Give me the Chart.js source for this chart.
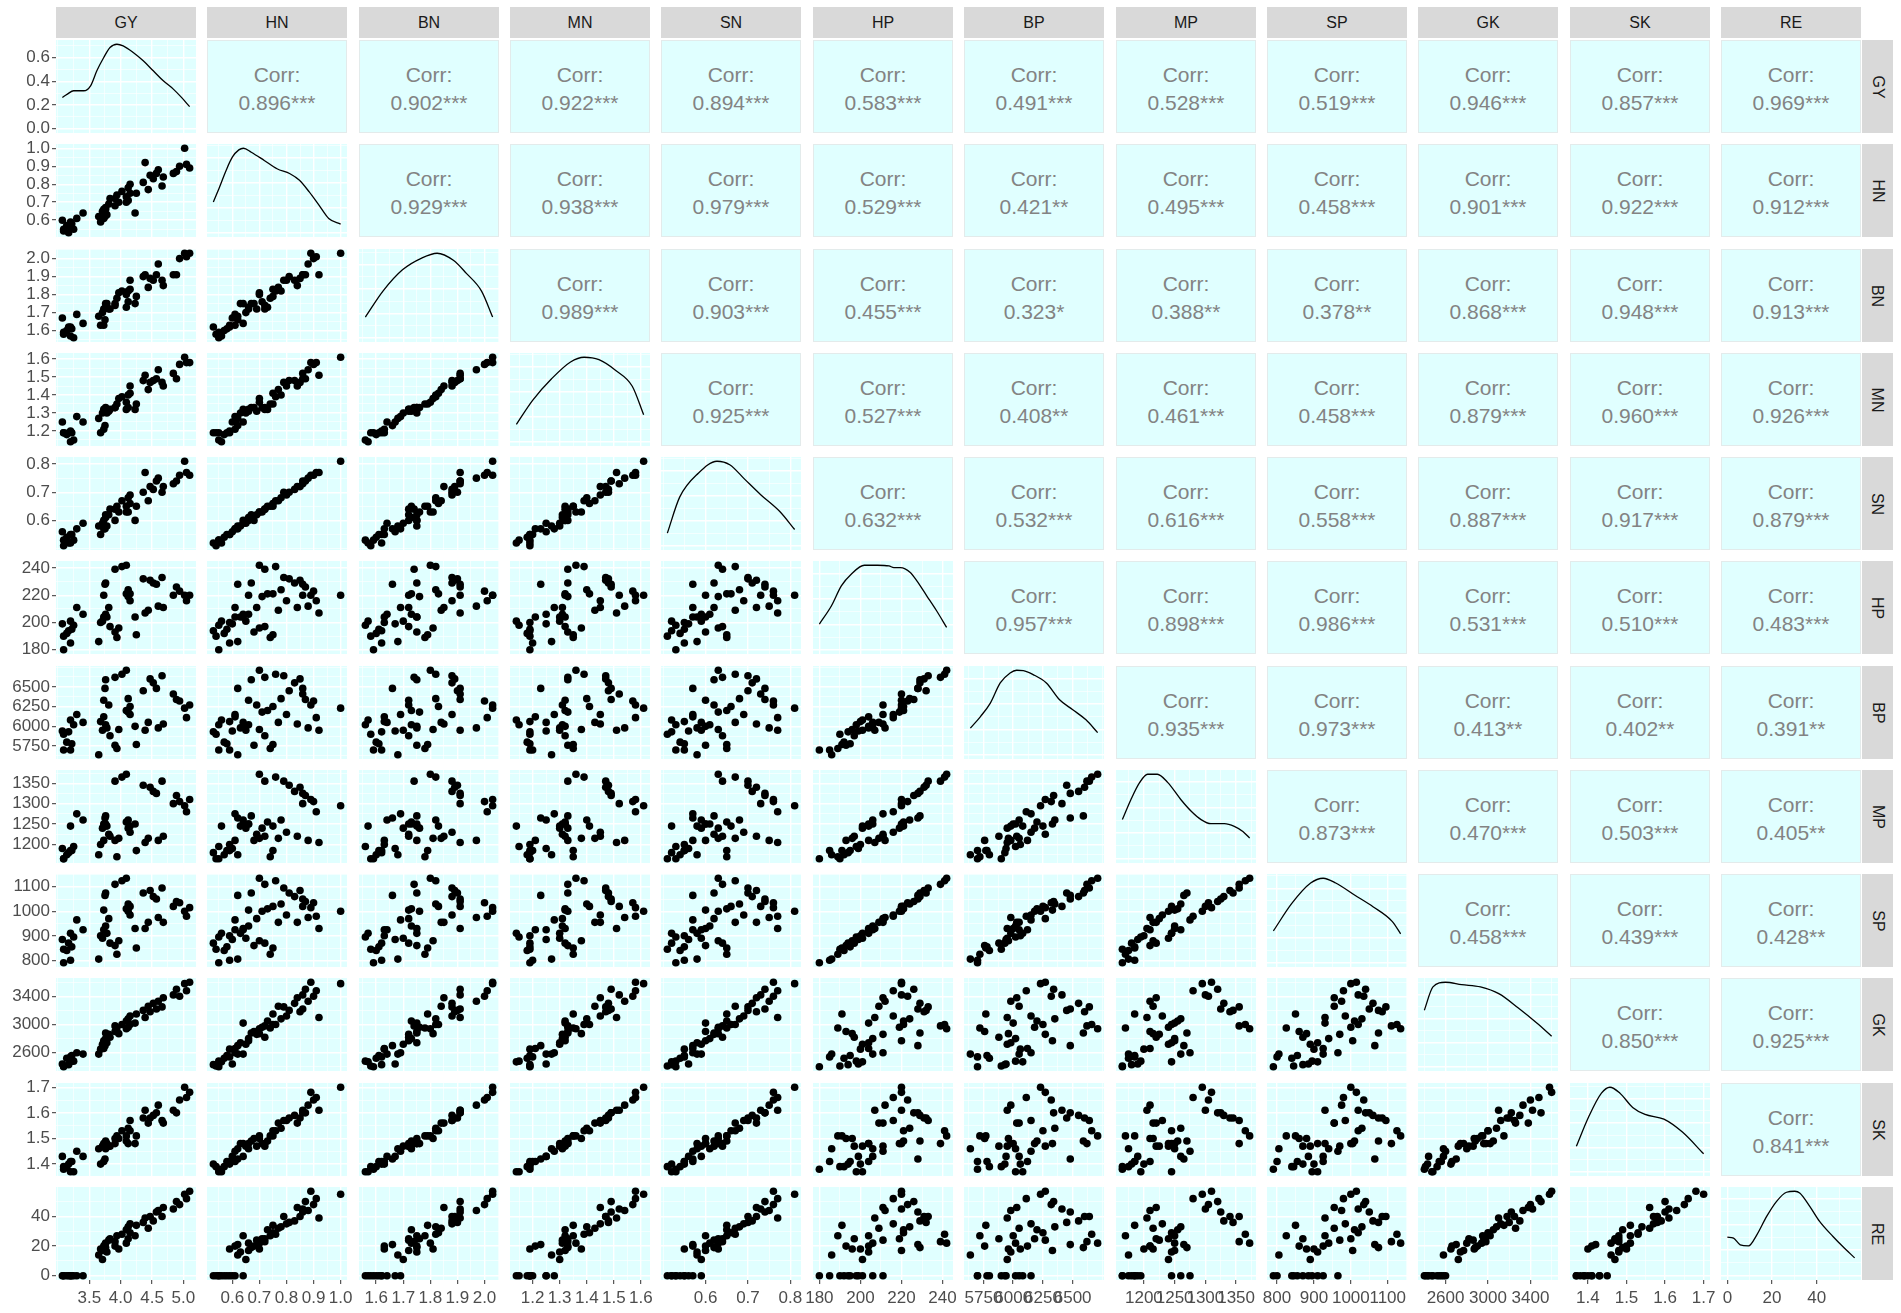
<!DOCTYPE html>
<html>
<head>
<meta charset="utf-8">
<title>Correlation matrix</title>
<script src="https://cdn.jsdelivr.net/npm/chart.js@4.4.1/dist/chart.umd.min.js"></script>
<style>
  body { margin: 0; background: #fff; width: 1901px; height: 1313px; position: relative; overflow: hidden;
         font-family: "Liberation Sans", Arial, sans-serif; }
  canvas { position: absolute; }
  .strip { position: absolute; background: #d9d9d9; color: #1a1a1a; font-size: 16px;
           display: flex; align-items: center; justify-content: center; }
  .strip.side span { display: inline-block; transform: rotate(90deg); }
  .corr { position: absolute; box-sizing: border-box; background: #e0ffff; border: 1px solid #e3ebeb;
          color: #838383; font-size: 21px; line-height: 28px; text-align: center;
          display: flex; flex-direction: column; justify-content: center; padding-top: 5px; }
</style>
</head>
<body>
<script>
// variables, in plot order
const varNames = ['GY', 'HN', 'BN', 'MN', 'SN', 'HP', 'BP', 'MP', 'SP', 'GK', 'SK', 'RE'];

// observations (one value per plot, same order in every array)
const gy = [3.07, 3.20, 3.09, 3.14, 3.17, 3.22, 3.25, 3.09, 3.20, 3.30, 3.40, 3.65, 3.68, 3.71, 3.73, 3.76, 3.78, 3.81, 3.73, 3.75, 3.76, 3.83, 3.91, 3.94, 3.97, 3.91, 4.02, 4.09, 4.12, 4.15, 4.12, 4.15, 4.09, 4.23, 4.25, 4.36, 4.39, 4.44, 4.47, 4.52, 4.57, 4.66, 4.68, 4.60, 4.84, 4.89, 4.94, 5.02, 5.05, 5.10];
const hn = [0.60, 0.56, 0.54, 0.57, 0.53, 0.58, 0.55, 0.55, 0.59, 0.61, 0.64, 0.62, 0.59, 0.65, 0.61, 0.66, 0.63, 0.69, 0.66, 0.62, 0.67, 0.72, 0.68, 0.74, 0.70, 0.72, 0.76, 0.70, 0.78, 0.75, 0.71, 0.80, 0.73, 0.64, 0.75, 0.81, 0.92, 0.77, 0.85, 0.83, 0.86, 0.79, 0.84, 0.88, 0.86, 0.87, 0.90, 1.00, 0.91, 0.89];
const bn = [1.67, 1.57, 1.58, 1.60, 1.62, 1.61, 1.56, 1.59, 1.62, 1.69, 1.64, 1.68, 1.63, 1.70, 1.63, 1.73, 1.75, 1.72, 1.72, 1.66, 1.75, 1.72, 1.75, 1.78, 1.81, 1.74, 1.82, 1.80, 1.82, 1.83, 1.76, 1.88, 1.73, 1.75, 1.79, 1.90, 1.91, 1.84, 1.89, 1.88, 1.91, 1.88, 1.85, 1.97, 1.91, 1.91, 2.00, 2.03, 2.01, 2.03];
const mn = [1.25, 1.14, 1.19, 1.18, 1.19, 1.19, 1.15, 1.19, 1.20, 1.28, 1.25, 1.27, 1.19, 1.30, 1.21, 1.31, 1.30, 1.31, 1.32, 1.23, 1.33, 1.32, 1.33, 1.35, 1.38, 1.33, 1.39, 1.36, 1.40, 1.41, 1.33, 1.45, 1.32, 1.32, 1.35, 1.48, 1.51, 1.43, 1.47, 1.48, 1.49, 1.47, 1.45, 1.54, 1.52, 1.49, 1.57, 1.61, 1.58, 1.58];
const sn = [0.56, 0.52, 0.51, 0.54, 0.52, 0.55, 0.53, 0.53, 0.55, 0.57, 0.59, 0.58, 0.55, 0.59, 0.57, 0.61, 0.58, 0.62, 0.60, 0.57, 0.62, 0.64, 0.60, 0.65, 0.63, 0.64, 0.67, 0.63, 0.68, 0.66, 0.63, 0.69, 0.65, 0.60, 0.65, 0.70, 0.77, 0.67, 0.72, 0.71, 0.74, 0.70, 0.72, 0.75, 0.73, 0.74, 0.76, 0.81, 0.77, 0.76];
const hp = [199, 201, 190, 192, 194, 195, 198, 180, 185, 211, 206, 186, 200, 201, 204, 206, 204, 211, 220, 228, 229, 197, 193, 189, 196, 239, 241, 242, 224, 221, 219, 216, 221, 204, 191, 232, 207, 209, 231, 229, 228, 233, 211, 212, 220, 226, 223, 220, 216, 220];
const bp = [5940, 6080, 5900, 5800, 5930, 5780, 6020, 5700, 5700, 6150, 6050, 5640, 6060, 5950, 6120, 6020, 5980, 6270, 6330, 6480, 6590, 5880, 5760, 5720, 5960, 6620, 6660, 6710, 6350, 6250, 6180, 6150, 6200, 6000, 5770, 6450, 5950, 6050, 6600, 6550, 6480, 6640, 6030, 5980, 6410, 6340, 6320, 6230, 6110, 6270];
const mp = [1190, 1245, 1165, 1175, 1180, 1185, 1195, 1165, 1185, 1275, 1260, 1175, 1200, 1240, 1210, 1250, 1245, 1225, 1250, 1265, 1270, 1220, 1210, 1170, 1215, 1355, 1365, 1372, 1260, 1245, 1240, 1230, 1255, 1250, 1185, 1345, 1205, 1215, 1340, 1330, 1325, 1355, 1220, 1210, 1300, 1320, 1305, 1295, 1280, 1310];
const sp = [885, 910, 845, 840, 870, 855, 895, 790, 800, 965, 925, 805, 900, 890, 925, 940, 910, 970, 1005, 1065, 1075, 870, 860, 825, 880, 1110, 1125, 1135, 1030, 1020, 1000, 985, 1010, 930, 850, 1075, 930, 955, 1085, 1060, 1050, 1095, 955, 975, 1020, 1040, 1035, 1000, 980, 1015];
const gk = [2440, 2470, 2410, 2520, 2430, 2560, 2480, 2400, 2540, 2600, 2580, 2580, 2650, 2720, 2660, 2800, 2740, 2860, 2770, 2700, 2880, 2820, 2900, 2950, 2870, 2980, 3000, 2940, 3080, 3000, 2960, 3120, 3050, 3020, 3150, 3200, 3100, 3260, 3180, 3300, 3220, 3250, 3380, 3330, 3420, 3500, 3400, 3580, 3480, 3600];
const sk = [1.43, 1.37, 1.39, 1.39, 1.40, 1.41, 1.37, 1.38, 1.41, 1.45, 1.43, 1.46, 1.40, 1.47, 1.41, 1.46, 1.48, 1.47, 1.48, 1.42, 1.49, 1.47, 1.50, 1.51, 1.50, 1.48, 1.53, 1.51, 1.54, 1.53, 1.48, 1.57, 1.49, 1.48, 1.51, 1.58, 1.61, 1.56, 1.58, 1.59, 1.60, 1.57, 1.56, 1.63, 1.61, 1.60, 1.65, 1.70, 1.66, 1.68];
const re = [0, 0, 0, 0, 0, 0, 0, 0, 0, 0, 0, 14, 18, 11, 20, 22, 16, 24, 17, 21, 19, 25, 20, 27, 18, 23, 28, 22, 33, 29, 25, 35, 31, 27, 34, 36, 39, 32, 40, 37, 43, 40, 46, 44, 45, 50, 48, 55, 52, 57];

// axis tick labels
const tickGY = ['3.5', '4.0', '4.5', '5.0'];
const tickHN = ['0.6', '0.7', '0.8', '0.9', '1.0'];
const tickBN = ['1.6', '1.7', '1.8', '1.9', '2.0'];
const tickMN = ['1.2', '1.3', '1.4', '1.5', '1.6'];
const tickSN = ['0.6', '0.7', '0.8'];
const tickHP = ['180', '200', '220', '240'];
const tickBP = ['5750', '6000', '6250', '6500'];
const tickMP = ['1200', '1250', '1300', '1350'];
const tickSP = ['800', '900', '1000', '1100'];
const tickGK = ['2600', '3000', '3400'];
const tickSK = ['1.4', '1.5', '1.6', '1.7'];
const tickRE = ['0', '20', '40'];
const tickDensGY = ['0.0', '0.2', '0.4', '0.6'];
const tickDensRel = ['0.0', '0.3', '0.6', '0.9'];

// diagonal density curves (GY in density units, the others relative to their peak)
const densGYx = [3.07, 3.15, 3.25, 3.41, 3.52, 3.62, 3.73, 3.83, 3.94, 4.04, 4.20, 4.36, 4.52, 4.68, 4.84, 4.97, 5.10];
const densGYy = [0.264, 0.292, 0.320, 0.320, 0.362, 0.488, 0.600, 0.684, 0.712, 0.698, 0.642, 0.572, 0.488, 0.404, 0.334, 0.264, 0.186];
const densHNx = [0.53, 0.553, 0.577, 0.600, 0.624, 0.641, 0.670, 0.718, 0.765, 0.813, 0.848, 0.884, 0.920, 0.956, 1.0];
const densHNy = [0.372, 0.552, 0.751, 0.910, 0.998, 1.018, 0.970, 0.871, 0.771, 0.711, 0.632, 0.492, 0.333, 0.173, 0.105];
const densBNx = [1.56, 1.625, 1.697, 1.768, 1.825, 1.885, 1.933, 1.989, 2.03];
const densBNy = [0.254, 0.572, 0.833, 0.977, 1.036, 0.949, 0.789, 0.572, 0.254];
const densMNx = [1.14, 1.20, 1.27, 1.34, 1.39, 1.445, 1.507, 1.568, 1.61];
const densMNy = [0.21, 0.50, 0.76, 0.963, 1.02, 0.99, 0.86, 0.67, 0.326];
const densSNx = [0.51, 0.539, 0.583, 0.627, 0.657, 0.692, 0.730, 0.775, 0.81];
const densSNy = [0.153, 0.587, 0.876, 1.02, 0.978, 0.804, 0.616, 0.413, 0.196];
const densHPx = [180, 185.9, 190.7, 195.5, 201.9, 208.3, 213.9, 216.3, 219.5, 224.3, 227.5, 232.3, 237.1, 242];
const densHPy = [0.304, 0.52, 0.755, 0.893, 0.999, 0.999, 0.991, 0.971, 0.971, 0.913, 0.814, 0.638, 0.461, 0.264];
const densBPx = [5640, 5725, 5808, 5891, 5974, 6029, 6085, 6168, 6279, 6390, 6501, 6612, 6710];
const densBPy = [0.313, 0.45, 0.608, 0.845, 0.963, 0.995, 0.991, 0.944, 0.845, 0.648, 0.53, 0.411, 0.261];
const densMPx = [1165, 1179, 1193, 1206, 1222, 1239, 1260, 1277, 1293, 1309, 1331, 1347, 1361, 1372];
const densMPy = [0.459, 0.695, 0.892, 0.991, 0.991, 0.892, 0.695, 0.557, 0.459, 0.411, 0.411, 0.38, 0.32, 0.242];
const densSPx = [790, 840, 891, 925, 959, 1010, 1061, 1112, 1135];
const densSPy = [0.384, 0.717, 0.963, 1.021, 0.963, 0.818, 0.674, 0.5, 0.35];
const densGKx = [2400, 2481, 2599, 2752, 2929, 3106, 3283, 3460, 3600];
const densGKy = [0.703, 0.992, 1.05, 1.02, 0.992, 0.905, 0.732, 0.543, 0.38];
const densSKx = [1.37, 1.402, 1.435, 1.457, 1.483, 1.516, 1.548, 1.597, 1.645, 1.70];
const densSKy = [0.312, 0.674, 0.963, 1.036, 0.963, 0.789, 0.703, 0.645, 0.486, 0.22];
const densREx = [0, 2.78, 5.75, 9.45, 13.2, 17.6, 22.05, 26.5, 30.2, 32.4, 36.9, 41.3, 47.3, 51.7, 57];
const densREy = [0.453, 0.441, 0.363, 0.35, 0.48, 0.696, 0.873, 0.979, 0.991, 0.971, 0.814, 0.638, 0.461, 0.343, 0.21];

// upper triangle correlation labels, row by row
const corrLabels = [
  '0.896***', '0.902***', '0.922***', '0.894***', '0.583***', '0.491***', '0.528***', '0.519***', '0.946***', '0.857***', '0.969***',
  '0.929***', '0.938***', '0.979***', '0.529***', '0.421**', '0.495***', '0.458***', '0.901***', '0.922***', '0.912***',
  '0.989***', '0.903***', '0.455***', '0.323*', '0.388**', '0.378**', '0.868***', '0.948***', '0.913***',
  '0.925***', '0.527***', '0.408**', '0.461***', '0.458***', '0.879***', '0.960***', '0.926***',
  '0.632***', '0.532***', '0.616***', '0.558***', '0.887***', '0.917***', '0.879***',
  '0.957***', '0.898***', '0.986***', '0.531***', '0.510***', '0.483***',
  '0.935***', '0.973***', '0.413**', '0.402**', '0.391**',
  '0.873***', '0.470***', '0.503***', '0.405**',
  '0.458***', '0.439***', '0.428**',
  '0.850***', '0.925***',
  '0.841***'
];

// lookup tables built from the arrays above
const values = [gy, hn, bn, mn, sn, hp, bp, mp, sp, gk, sk, re];
const ticks = [tickGY, tickHN, tickBN, tickMN, tickSN, tickHP, tickBP, tickMP, tickSP, tickGK, tickSK, tickRE];
const densX = [densGYx, densHNx, densBNx, densMNx, densSNx, densHPx, densBPx, densMPx, densSPx, densGKx, densSKx, densREx];
const densY = [densGYy, densHNy, densBNy, densMNy, densSNy, densHPy, densBPy, densMPy, densSPy, densGKy, densSKy, densREy];

const FONT = '"Liberation Sans", Arial, sans-serif';
const N = varNames.length;
const X0 = 56, Y0 = 40, DX = 151.36, DY = 104.27, PW = 140, PH = 93;
const CYAN = '#e0ffff';

// ggplot-like range: data range plus 5% each side
function range(arr) {
  const lo = Math.min(...arr), hi = Math.max(...arr);
  const pad = (hi - lo) * 0.05;
  return [lo - pad, hi + pad];
}

// major ticks from the labels, minor ones halfway between
function gridTicks(labels, lo, hi) {
  const vals = labels.map(Number);
  const half = (vals[1] - vals[0]) / 2;
  const out = [];
  for (let k = Math.ceil(lo / half - 1e-6); k * half <= hi + 1e-9; k++) {
    const v = +(k * half).toFixed(6);
    const i = vals.findIndex(m => Math.abs(m - v) < half * 0.01);
    out.push({ value: v, big: i >= 0, lab: i >= 0 ? labels[i] : '' });
  }
  return out;
}

function axis(pos, labels, lo, hi, show) {
  const list = gridTicks(labels, lo, hi);
  return {
    type: 'linear',
    position: pos,
    min: lo,
    max: hi,
    afterBuildTicks: s => { s.ticks = list.map(t => Object.assign({}, t)); },
    afterFit: s => {
      if (pos === 'left') { s.width = show ? 56 : 0; s.paddingTop = 0; s.paddingBottom = 0; }
      else { s.height = show ? 32 : 0; s.paddingLeft = 0; s.paddingRight = 0; }
    },
    border: { display: false },
    grid: {
      color: '#ffffff',
      lineWidth: c => (c.tick && c.tick.big ? 1.4 : 0.6),
      drawTicks: show,
      tickLength: 4,
      tickWidth: 1,
      tickColor: c => (c.tick && c.tick.big ? '#333333' : 'rgba(0,0,0,0)')
    },
    ticks: {
      display: show,
      autoSkip: false,
      maxRotation: 0,
      minRotation: 0,
      padding: pos === 'left' ? 2 : 4,
      color: '#4d4d4d',
      font: { family: FONT, size: 17 },
      callback: (v, i, t) => t[i].lab
    }
  };
}

// fills the plotting area before the grid is drawn
const panelBg = {
  id: 'panelBg',
  beforeDraw(chart) {
    const a = chart.chartArea, ctx = chart.ctx;
    ctx.save();
    ctx.fillStyle = CYAN;
    ctx.fillRect(a.left, a.top, a.right - a.left, a.bottom - a.top);
    ctx.restore();
  }
};

function addDiv(cls, left, top, w, h, html) {
  const d = document.createElement('div');
  d.className = cls;
  d.style.left = left + 'px';
  d.style.top = top + 'px';
  d.style.width = w + 'px';
  d.style.height = h + 'px';
  d.innerHTML = html;
  document.body.appendChild(d);
  return d;
}

const colLeft = c => Math.round(X0 + c * DX);
const rowTop = r => Math.round(Y0 + r * DY);

// strips
for (let i = 0; i < N; i++) {
  addDiv('strip', colLeft(i), 7, PW, 31, varNames[i]);
  addDiv('strip side', colLeft(N - 1) + PW + 1, rowTop(i), 31, PH, '<span>' + varNames[i] + '</span>');
}

// upper triangle: correlation text
let k = 0;
for (let r = 0; r < N; r++) {
  for (let c = r + 1; c < N; c++) {
    addDiv('corr', colLeft(c), rowTop(r), PW, PH, '<div>Corr:</div><div>' + corrLabels[k++] + '</div>');
  }
}

// lower triangle and diagonal: charts
for (let r = 0; r < N; r++) {
  for (let c = 0; c <= r; c++) {
    const showY = c === 0, showX = r === N - 1;
    const padL = showY ? 56 : 8, padR = 8, padT = 10, padB = showX ? 32 : 10;
    const cv = document.createElement('canvas');
    cv.width = PW + padL + padR;
    cv.height = PH + padT + padB;
    cv.style.left = (colLeft(c) - padL) + 'px';
    cv.style.top = (rowTop(r) - padT) + 'px';
    document.body.appendChild(cv);

    const [xlo, xhi] = range(values[c]);
    let dataset, yAxis;
    if (r === c) {
      const ys = densY[c];
      const ymax = Math.max(...ys);
      dataset = {
        data: densX[c].map((x, i) => ({ x: x, y: ys[i] })),
        showLine: true,
        pointRadius: 0,
        borderColor: '#000000',
        borderWidth: 1.3,
        cubicInterpolationMode: 'monotone'
      };
      yAxis = axis('left', c === 0 ? tickDensGY : tickDensRel, -ymax * 0.05, ymax * 1.05, showY);
    } else {
      const [ylo, yhi] = range(values[r]);
      dataset = {
        data: values[c].map((x, i) => ({ x: x, y: values[r][i] })),
        pointRadius: 3.8,
        pointHoverRadius: 3.8,
        pointBackgroundColor: '#000000',
        pointBorderWidth: 0
      };
      yAxis = axis('left', ticks[r], ylo, yhi, showY);
    }

    new Chart(cv, {
      type: 'scatter',
      data: { datasets: [dataset] },
      options: {
        responsive: false,
        animation: false,
        events: [],
        layout: { padding: { left: showY ? 0 : 8, right: padR, top: padT, bottom: showX ? 0 : 10 } },
        plugins: { legend: { display: false }, tooltip: { enabled: false } },
        scales: {
          x: axis('bottom', ticks[c], xlo, xhi, showX),
          y: yAxis
        }
      },
      plugins: [panelBg]
    });
  }
}
</script>
</body>
</html>
